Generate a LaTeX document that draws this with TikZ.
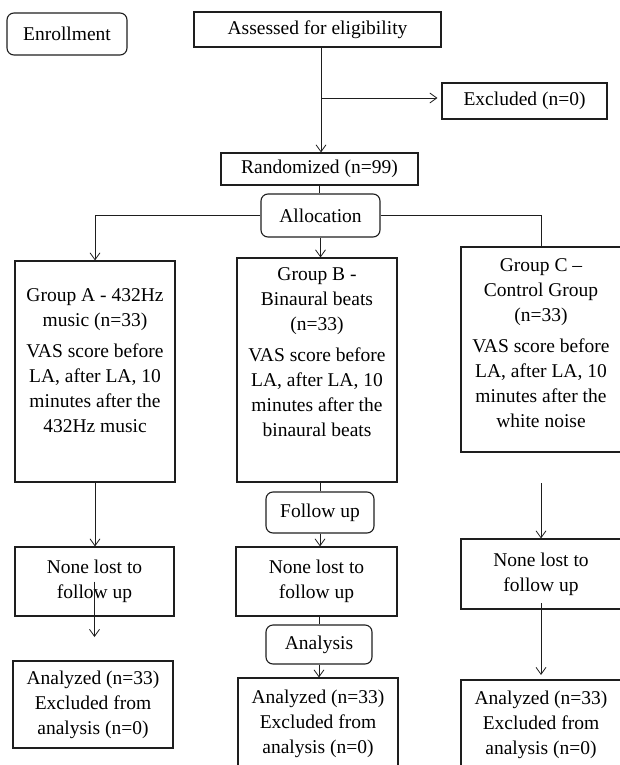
\documentclass[tikz,border=0pt]{standalone}
\usepackage{fontspec}
\setmainfont{Liberation Serif}
\usepackage{tikz}
\usetikzlibrary{arrows.meta,calc,positioning}
\definecolor{boxline}{HTML}{1E1E1E}
\tikzset{
  flowbox/.style={draw=boxline,line width=1.1pt,inner sep=0pt,align=center},
  roundbox/.style={flowbox,rounded corners=7pt},
  flowline/.style={draw=boxline,line width=0.9pt},
  flowarrow/.style={flowline,-{Straight Barb[length=7pt,width=10pt,line width=0.8pt]}},
  boxtext/.style={inner sep=0pt,align=center}
}

\begin{document}
\begin{tikzpicture}[x=1pt, y=-1pt, font=\fontsize{19.5}{25}\selectfont]
  \useasboundingbox (0,0) rectangle (619,765);
  \node[roundbox,minimum width=120pt,minimum height=42pt] (enroll) at (67,34) {Enrollment};
  \node[flowbox,minimum width=247pt,minimum height=35pt] (assess) at (317.5,29.5) {Assessed for eligibility};
  \node[flowbox,minimum width=165pt,minimum height=36pt] (excl) at (524.5,101) {Excluded (n=0)};
  \node[flowbox,minimum width=197pt,minimum height=32pt] (rand) at (319.5,169) {Randomized (n=99)};
  \node[roundbox,minimum width=119pt,minimum height=43pt] (alloc) at (320.5,215.5) {Allocation};
  \node[flowbox,minimum width=160pt,minimum height=221pt] (grpA) at (95,371.5) {};
  \node[flowbox,minimum width=160pt,minimum height=224pt] (grpB) at (317,370) {};
  \node[flowbox,minimum width=160pt,minimum height=205pt] (grpC) at (541,349.5) {};
  \node[boxtext,below=28pt of grpA.north] (grpAtext) {Group A - 432Hz\\music (n=33)\\[6pt]VAS score before\\LA, after LA, 10\\minutes after the\\432Hz music};
  \node[boxtext,below=10pt of grpB.north] (grpBtext) {Group B -\\Binaural beats\\(n=33)\\[6pt]VAS score before\\LA, after LA, 10\\minutes after the\\binaural beats};
  \node[boxtext,below=12pt of grpC.north] (grpCtext) {Group C --\\Control Group\\(n=33)\\[6pt]VAS score before\\LA, after LA, 10\\minutes after the\\white noise};
  \node[roundbox,minimum width=108pt,minimum height=41pt] (follow) at (320,512.5) {Follow up};
  \node[flowbox,minimum width=159pt,minimum height=69pt] (noneA) at (94.5,581.5) {None lost to\\follow up};
  \node[flowbox,minimum width=161pt,minimum height=69pt] (noneB) at (316.5,581.5) {None lost to\\follow up};
  \node[flowbox,minimum width=160pt,minimum height=70pt] (noneC) at (541,574) {None lost to\\follow up};
  \node[roundbox,minimum width=106pt,minimum height=39pt] (analysis) at (319,644.5) {Analysis};
  \node[flowbox,minimum width=160pt,minimum height=87pt] (anaA) at (93,704.5) {Analyzed (n=33)\\Excluded from\\analysis (n=0)};
  \node[flowbox,minimum width=160pt,minimum height=92pt] (anaB) at (318,724) {Analyzed (n=33)\\Excluded from\\analysis (n=0)};
  \node[flowbox,minimum width=160pt,minimum height=90pt] (anaC) at (541,725) {Analyzed (n=33)\\Excluded from\\analysis (n=0)};
  \coordinate (split) at (321,98);
  \coordinate (aTip) at (94.5,637);
  \coordinate (cTop) at (541,483);
  \coordinate (cMid) at (541,603);
  \coordinate (cTip) at (541,675);
  \draw[flowarrow] (assess.south -| split) -- (rand.north -| split);
  \draw[flowarrow,shorten >=4pt] (split) -- (split -| excl.west);
  \draw[flowline] (rand.south) -- (rand.south |- alloc.north);
  \draw[flowarrow] (alloc.west) -| (grpA.north);
  \draw[flowarrow] (alloc.south) -- (alloc.south |- grpB.north);
  \draw[flowline] (alloc.east) -| (grpC.north);
  \draw[flowarrow] (grpA.south) -- (grpA.south |- noneA.north);
  \draw[flowline] (follow.north |- grpB.south) -- (follow.north);
  \draw[flowarrow] (follow.south) -- (follow.south |- noneB.north);
  \draw[flowarrow] (cTop) -- (cTop |- noneC.north);
  \draw[flowarrow] (noneA.center) -- (aTip);
  \draw[flowline] (analysis.north |- noneB.south) -- (analysis.north);
  \draw[flowarrow] (analysis.south) -- (analysis.south |- anaB.north);
  \draw[flowarrow] (cMid) -- (cTip);
\end{tikzpicture}
\end{document}
